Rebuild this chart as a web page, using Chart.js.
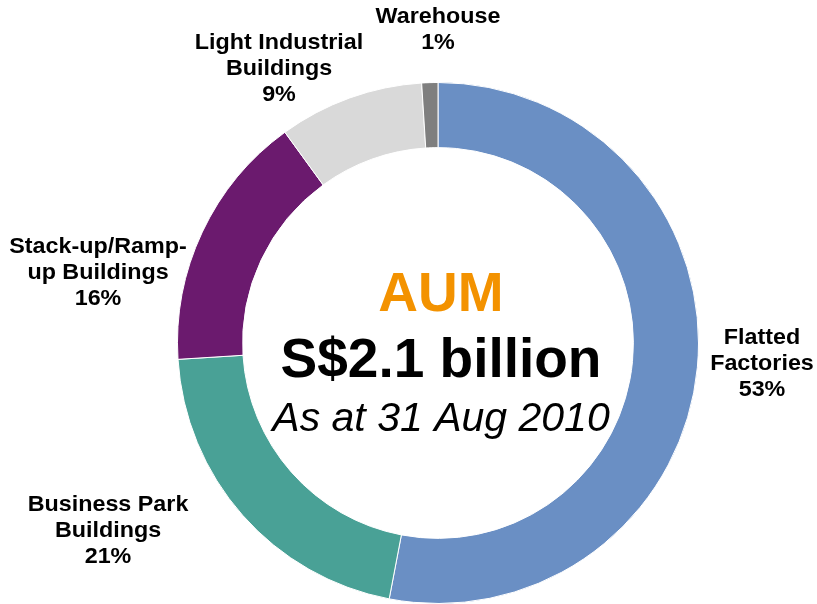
<!DOCTYPE html>
<html>
<head>
<meta charset="utf-8">
<script src="https://cdn.jsdelivr.net/npm/chart.js@4"></script>
<style>
  html, body { margin: 0; padding: 0; background: #fff; }
  #wrap { width: 817px; height: 604px; position: relative; }
</style>
</head>
<body>
<div id="wrap"><canvas id="aum-chart"></canvas></div>
<script>
'use strict';

// data
const categories = [
  ['Flatted', 'Factories'],
  ['Business Park', 'Buildings'],
  ['Stack-up/Ramp-', 'up Buildings'],
  ['Light Industrial', 'Buildings'],
  ['Warehouse']
];
const shares = [53, 21, 16, 9, 1];
const centreTitle = 'AUM';
const centreValue = 'S$2.1 billion';
const centreDate = 'As at 31 Aug 2010';

// look
const colours = ['#6a8fc4', '#49a196', '#6b1a6e', '#d9d9d9', '#7f7f7f'];
// label anchor (x centre, y of first line) for each slice
const labelAnchors = [[762, 338], [108, 505], [98, 247], [279, 43], [438, 17]];

const labelsPlugin = {
  id: 'sliceLabels',
  afterDraw(chart) {
    const ctx = chart.ctx;
    ctx.save();
    ctx.textAlign = 'center';
    ctx.textBaseline = 'middle';
    ctx.fillStyle = '#000';
    ctx.font = 'bold 22px "Liberation Sans", Arial, sans-serif';
    chart.data.labels.forEach((lines, i) => {
      const [x, y] = labelAnchors[i];
      const all = lines.concat([chart.data.datasets[0].data[i] + '%']);
      all.forEach((t, k) => {
        ctx.save();
        ctx.translate(x, y + k * 26);
        ctx.scale(1.06, 1);
        ctx.fillText(t, 0, 0);
        ctx.restore();
      });
    });

    const arc = chart.getDatasetMeta(0).data[0];
    const cx = arc.x, cy = arc.y;
    ctx.fillStyle = '#f39200';
    ctx.font = 'bold 55px "Liberation Sans", Arial, sans-serif';
    ctx.fillText(centreTitle, cx + 3, cy - 47);
    ctx.fillStyle = '#000';
    ctx.fillText(centreValue, cx + 3, cy + 19);
    ctx.font = 'italic 41px "Liberation Sans", Arial, sans-serif';
    ctx.fillText(centreDate, cx + 3, cy + 77);
    ctx.restore();
  }
};

new Chart(document.getElementById('aum-chart'), {
  type: 'doughnut',
  data: {
    labels: categories,
    datasets: [{
      data: shares,
      backgroundColor: colours,
      borderColor: '#ffffff',
      borderWidth: 1
    }]
  },
  options: {
    responsive: true,
    maintainAspectRatio: false,
    animation: false,
    cutout: '75%',
    layout: { padding: { top: 82, bottom: 0, left: 177, right: 118 } },
    plugins: {
      legend: { display: false },
      tooltip: { enabled: false }
    }
  },
  plugins: [labelsPlugin]
});
</script>
</body>
</html>
